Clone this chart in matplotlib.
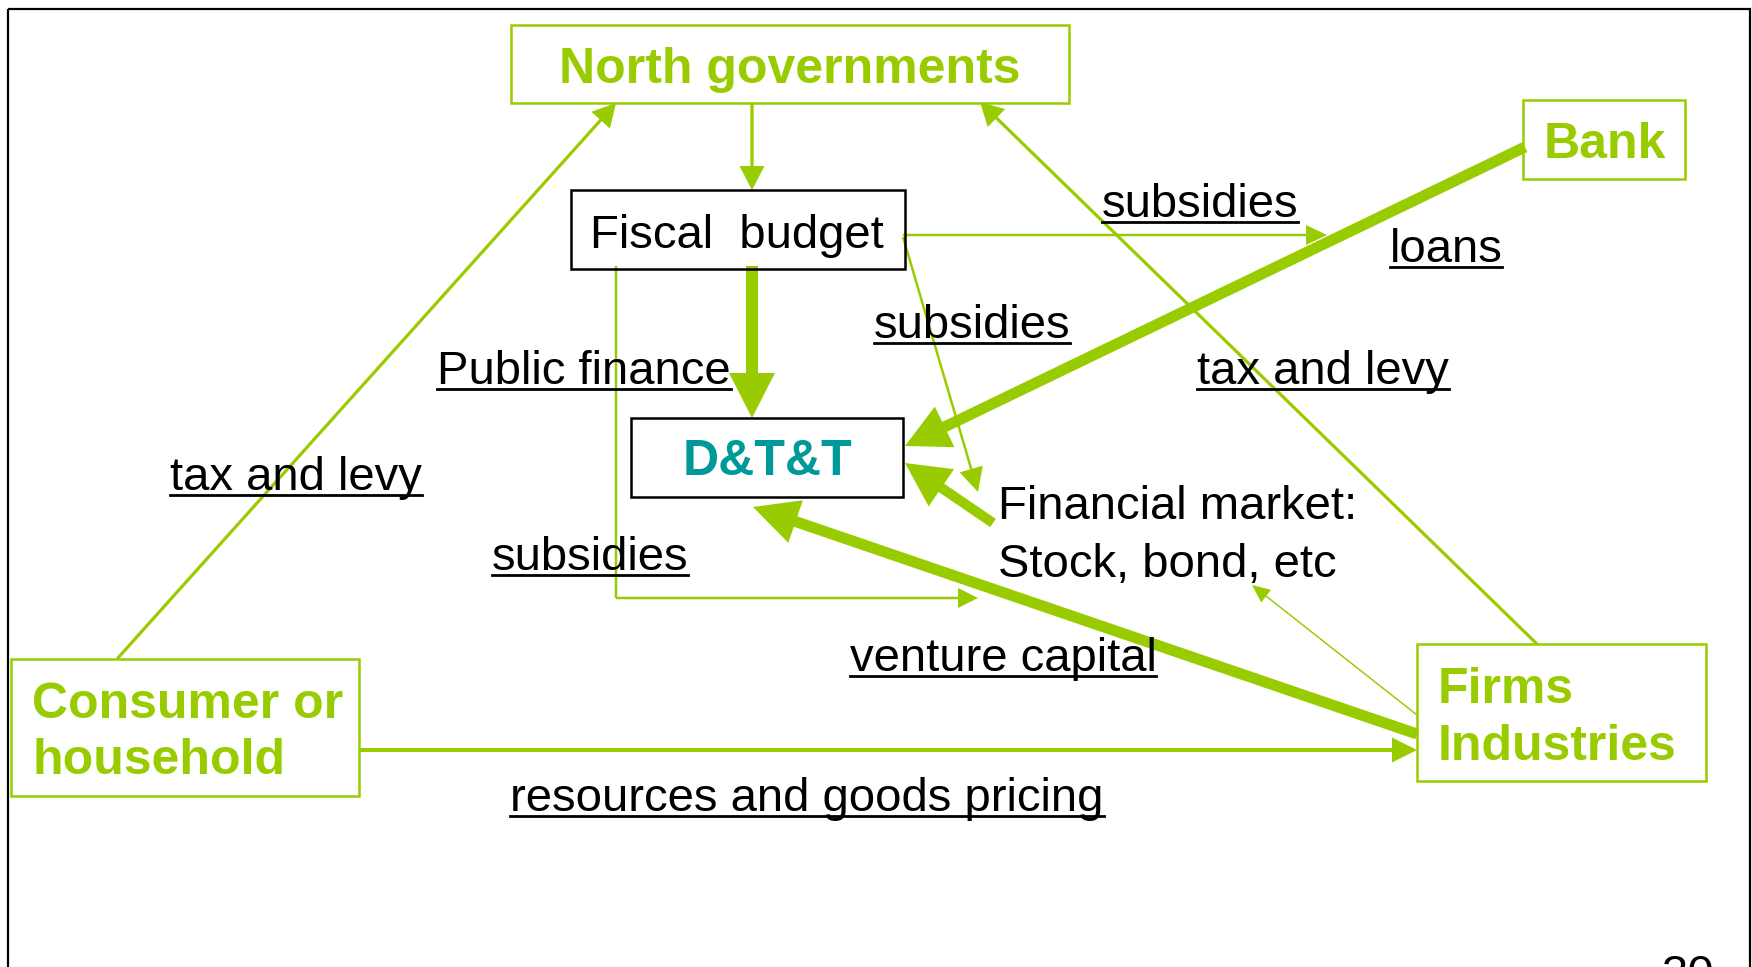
import matplotlib.pyplot as plt
from matplotlib.patches import Rectangle, FancyArrow

GREEN = '#99cc00'
TEAL = '#009999'
FONT = 'Liberation Sans'

# boxes: left, top, right, bottom (pixel coords, y down)
box_rects = [(511, 25, 1069, 103), (1523, 100, 1685, 179), (571, 190, 905, 269),
             (631, 418, 903, 497), (11, 659, 359, 796), (1417, 644, 1706, 781)]
box_edges = [GREEN, GREEN, 'black', 'black', GREEN, GREEN]

# text inside the boxes
box_text = ["North governments", "Bank", "Fiscal  budget", "D&T&T",
            "Consumer or", "household", "Firms", "Industries"]
box_text_x = [790, 1605, 737, 767, 32, 32, 1438, 1438]
box_text_y = [83, 158, 248, 475, 718, 774, 703, 760]
box_text_ha = ['center', 'center', 'center', 'center', 'left', 'left', 'left', 'left']
box_text_color = [GREEN, GREEN, 'black', TEAL, GREEN, GREEN, GREEN, GREEN]
box_text_bold = [True, True, False, True, True, True, True, True]

# underlined flow labels
flow_labels = ["subsidies", "loans", "subsidies", "Public finance", "tax and levy",
               "tax and levy", "subsidies", "venture capital", "resources and goods pricing"]
flow_x = [1200, 1446, 972, 584, 1323, 296, 590, 1003, 807]
flow_y = [217, 262, 338, 384, 384, 490, 570, 671, 811]

# plain labels
plain_labels = ["Financial market:", "Stock, bond, etc", "30"]
plain_x = [998, 998, 1661]
plain_y = [519, 577, 988]

# arrows: x0, y0, x1, y1, shaft width, head width, head length
arrows = [
    (117, 659, 616, 103, 3.2, 25, 23),     # consumer -> north gov
    (752, 103, 752, 190, 3.3, 25, 24),     # north gov -> fiscal budget
    (1537, 644, 980, 102, 3.2, 25, 23),    # firms -> north gov
    (752, 266, 752, 418, 12, 46, 45),      # fiscal budget -> D&T&T
    (1525, 147, 905, 446, 11, 45, 44),     # bank -> D&T&T
    (993, 523, 905, 463, 10, 45, 44),      # financial market -> D&T&T
    (1417, 734, 753, 507, 11, 45, 45),     # firms -> D&T&T
    (903, 235, 1327, 235, 2.5, 20, 21),    # fiscal budget -> subsidies
    (903, 237, 978, 492, 2.5, 24, 24),     # fiscal budget -> financial market
    (1417, 715, 1252, 585, 1.5, 16, 18),   # firms -> financial market
    (359, 750, 1417, 750, 4, 25, 25),      # consumer -> firms
    (616, 598, 978, 598, 2.5, 20, 20),     # fiscal budget branch -> venture capital
]
# bent part of the fiscal budget branch
branch_x = [616, 616]
branch_y = [266, 598]

fig = plt.figure(figsize=(17.52, 9.67), dpi=100)
ax = fig.add_axes([0, 0, 1, 1])
ax.set_xlim(0, 1752)
ax.set_ylim(967, 0)
ax.axis('off')

# slide frame
ax.add_patch(Rectangle((8, 9), 1742, 1000, fill=False, edgecolor='black', lw=1.6, clip_on=False))

for (x0, y0, x1, y1), ec in zip(box_rects, box_edges):
    ax.add_patch(Rectangle((x0, y0), x1 - x0, y1 - y0, fill=False, edgecolor=ec,
                           lw=1.8, zorder=3))

ax.plot(branch_x, branch_y, color=GREEN, lw=2.5 * 0.72, solid_capstyle='butt', zorder=2)
for x0, y0, x1, y1, w, hw, hl in arrows:
    ax.add_patch(FancyArrow(x0, y0, x1 - x0, y1 - y0, width=w, head_width=hw,
                            head_length=hl, length_includes_head=True,
                            color=GREEN, lw=0, zorder=2))

for t, x, y, ha, c, b in zip(box_text, box_text_x, box_text_y, box_text_ha,
                             box_text_color, box_text_bold):
    ax.text(x, y, t, ha=ha, va='baseline', color=c, fontsize=36 if b else 34,
            fontweight='bold' if b else 'normal', family=FONT, zorder=4)

flow_texts = []
for t, x, y in zip(flow_labels, flow_x, flow_y):
    flow_texts.append(ax.text(x, y, t, ha='center', va='baseline', fontsize=34,
                              family=FONT, zorder=4))

for t, x, y in zip(plain_labels, plain_x, plain_y):
    ax.text(x, y, t, ha='left', va='baseline', fontsize=34, family=FONT, zorder=4)

# underline the flow labels
fig.canvas.draw()
r = fig.canvas.get_renderer()
inv = ax.transData.inverted()
for t, y in zip(flow_texts, flow_y):
    bb = t.get_window_extent(r)
    (ux0, _), (ux1, _) = inv.transform([[bb.x0, bb.y0], [bb.x1, bb.y0]])
    ax.plot([ux0, ux1], [y + 5, y + 5], color='black', lw=2.0, zorder=4)

fig.savefig('out.png', dpi=100)
